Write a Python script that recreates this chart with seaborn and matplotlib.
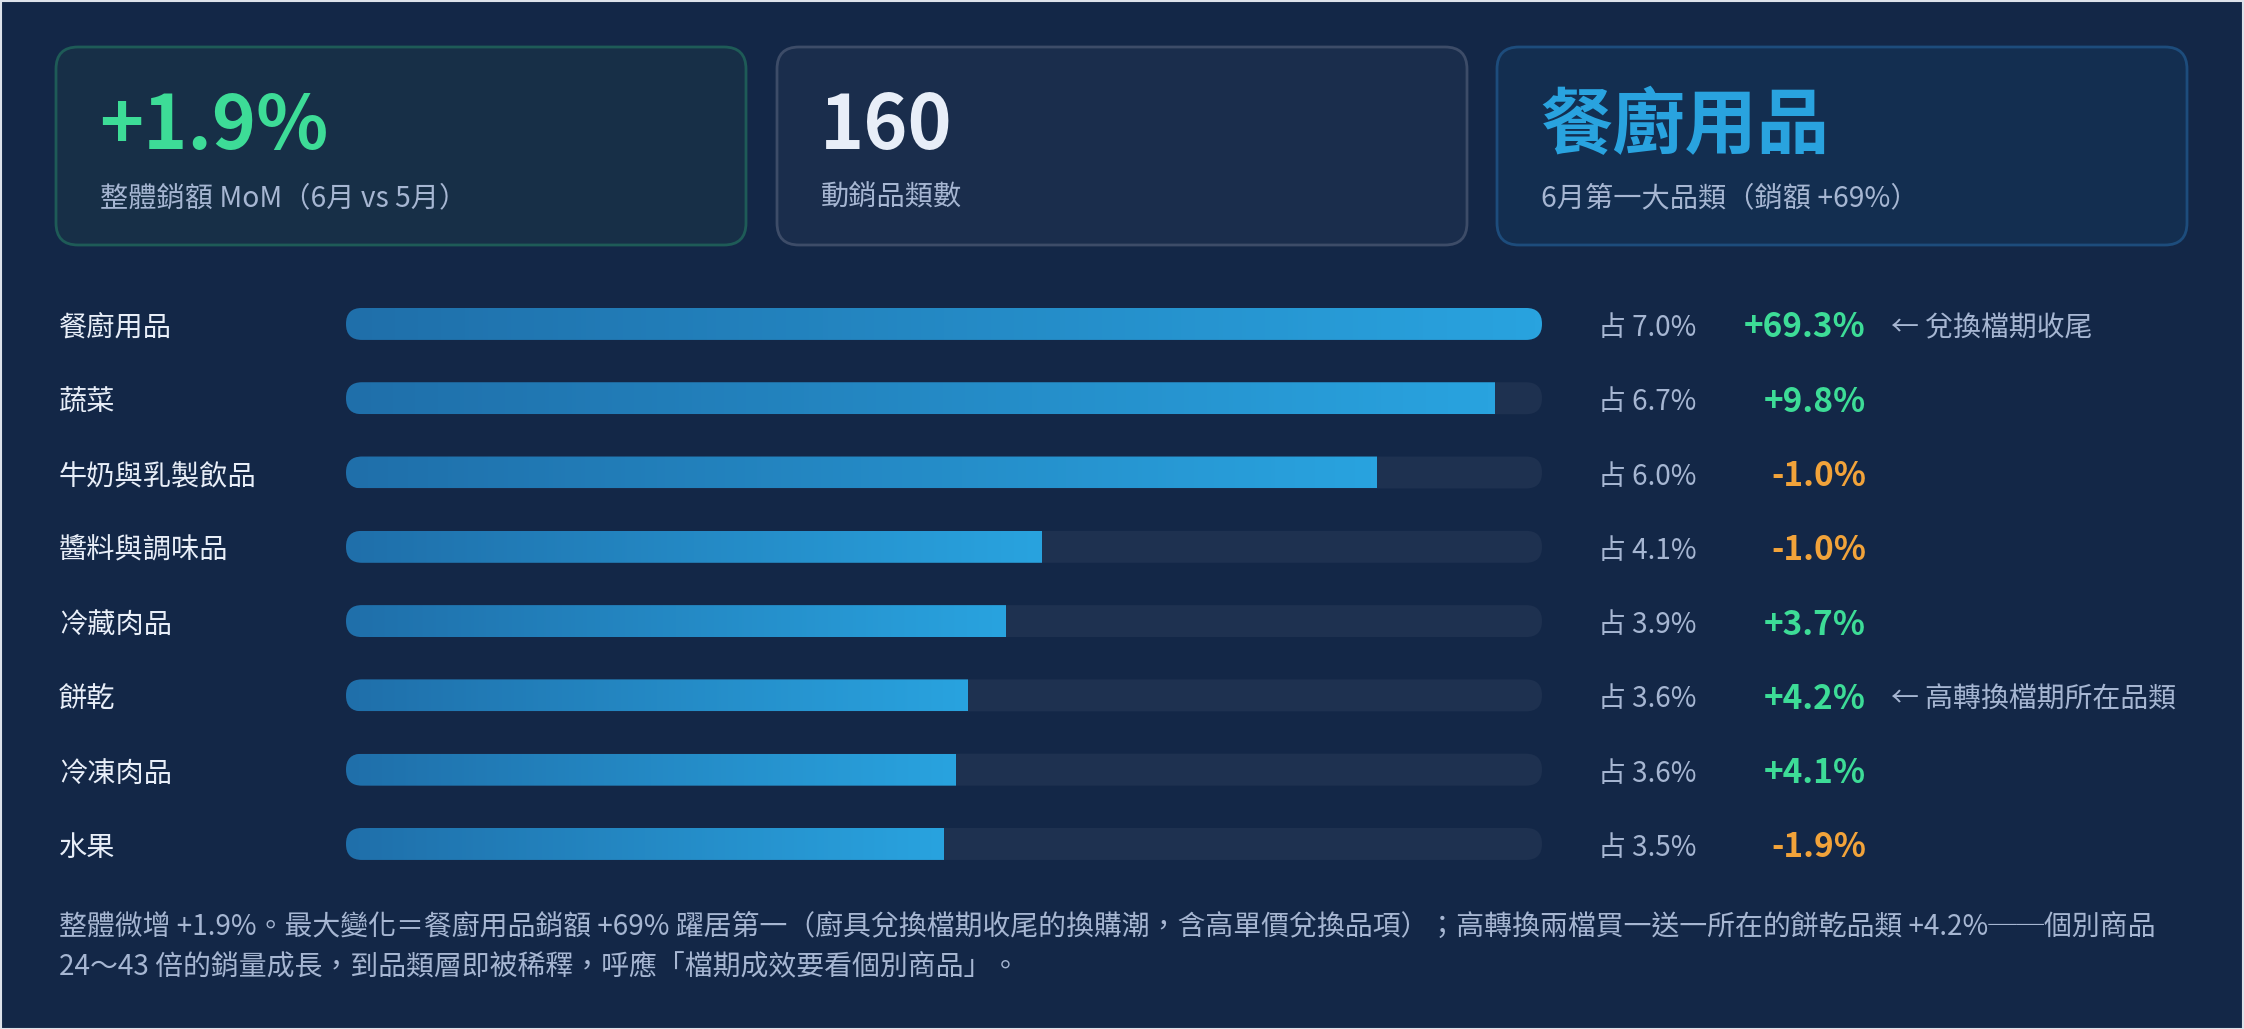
import numpy as np
import pandas as pd
import matplotlib
matplotlib.use("Agg")
import matplotlib.pyplot as plt
import seaborn as sns
import matplotlib.transforms as mtransforms
from matplotlib.patches import FancyBboxPatch, Rectangle
from matplotlib.colors import LinearSegmentedColormap

# ---------------- data ----------------
categories = ["餐廚用品", "蔬菜", "牛奶與乳製飲品", "醬料與調味品", "冷藏肉品", "餅乾", "冷凍肉品", "水果"]
share = [7.0, 6.72, 6.03, 4.07, 3.86, 3.64, 3.57, 3.50]
mom = [69.3, 9.8, -1.0, -1.0, 3.7, 4.2, 4.1, -1.9]
notes = ["← 兌換檔期收尾", "", "", "", "", "← 高轉換檔期所在品類", "", ""]

kpi_values = ["+1.9%", "160", "餐廚用品"]
kpi_labels = ["整體銷額 MoM（6月 vs 5月）", "動銷品類數", "6月第一大品類（銷額 +69%）"]

footer_lines = [
    "整體微增 +1.9%。最大變化＝餐廚用品銷額 +69% 躍居第一（廚具兌換檔期收尾的換購潮，含高單價兌換品項）；高轉換兩檔買一送一所在的餅乾品類 +4.2%──個別商品",
    "24〜43 倍的銷量成長，到品類層即被稀釋，呼應「檔期成效要看個別商品」。",
]

# ---------------- style ----------------
BG = "#132747"
TRACK = "#1e3150"
GRAD_L = "#1f6faa"
GRAD_R = "#29a3df"
GREEN = "#3ddc97"
ORANGE = "#f2a33a"
BLUE = "#29a3df"
WHITE = "#e8eef8"
MUTED = "#a6b6d2"
FS_CARD = 20.3
FS = 20.1

card_styles = [
    dict(fc="#172f47", ec="#1e5b57", vc=GREEN, fs=54),
    dict(fc="#1a2d4c", ec="#3d4c68", vc=WHITE, fs=54),
    dict(fc="#132e50", ec="#1d4c7c", vc=BLUE, fs=52),
]

sns.set_theme(style="dark")
plt.rcParams['font.family'] = ['Noto Sans CJK TC', 'DejaVu Sans']

W, H = 2244, 1029
fig = plt.figure(figsize=(W / 100, H / 100), dpi=100, facecolor=BG)

# overlay axes in pixel coordinates
ax0 = fig.add_axes([0, 0, 1, 1])
ax0.set_xlim(0, W)
ax0.set_ylim(H, 0)
ax0.axis('off')
ax0.set_facecolor(BG)

# ---------------- KPI cards ----------------
card_x = [56, 777, 1497]
card_w, card_y, card_h = 690, 47, 198
for x, val, lab, st in zip(card_x, kpi_values, kpi_labels, card_styles):
    ax0.add_patch(FancyBboxPatch((x, card_y), card_w, card_h,
                                 boxstyle="round,pad=0,rounding_size=22",
                                 fc=st["fc"], ec=st["ec"], lw=2))
    ax0.text(x + 43, 127, val, fontsize=st["fs"], fontweight='bold', color=st["vc"],
             va='center', ha='left')
    ax0.text(x + 44, 198, lab, fontsize=FS_CARD, color=MUTED, va='center', ha='left')

# ---------------- bars ----------------
n = len(categories)
ax = fig.add_axes([346 / W, 1 - 881.1 / H, 1196 / W, 594.3 / H])
df = pd.DataFrame({"category": categories, "share": share, "track": [max(share)] * n})
bw = 0.43
sns.barplot(data=df, y="category", x="track", orient="h", color=TRACK,
            width=bw, saturation=1, ax=ax)
sns.barplot(data=df, y="category", x="share", orient="h", color=GRAD_R,
            width=bw, saturation=1, ax=ax)
ax.set_xlim(0, max(share))
ax.set_ylim(n - 0.5, -0.5)
ax.set_facecolor("none")
ax.axis('off')

p0 = ax.transData.transform((0, 0))
px_x = ax.transData.transform((1, 0))[0] - p0[0]
px_y = abs(ax.transData.transform((0, 1))[1] - p0[1])
asp = px_x / px_y

cmap = LinearSegmentedColormap.from_list("bar", [GRAD_L, GRAD_R])
grad = np.linspace(0, 1, 256).reshape(1, -1)

patches = list(ax.patches)
tracks, fills = patches[:n], patches[n:2 * n]
for tp, fp in zip(tracks, fills):
    x, y, w, h = tp.get_x(), tp.get_y(), tp.get_width(), tp.get_height()
    r = h / (2 * asp)
    pill = FancyBboxPatch((x, y), w, h, boxstyle=f"round,pad=0,rounding_size={r}",
                          mutation_aspect=asp, fc=TRACK, ec="none", zorder=2,
                          transform=ax.transData)
    ax.add_patch(pill)
    fx, fy, fw, fh = fp.get_x(), fp.get_y(), fp.get_width(), fp.get_height()
    im = ax.imshow(grad, extent=[fx, fx + fw, fy + fh, fy], cmap=cmap,
                   aspect='auto', zorder=3, interpolation='bilinear')
    im.set_clip_path(pill)
    tp.set_visible(False)
    fp.set_visible(False)
ax.set_xlim(0, max(share))
ax.set_ylim(n - 0.5, -0.5)

# ---------------- row texts ----------------
trans = mtransforms.blended_transform_factory(ax0.transData, ax.transData)
trans = mtransforms.offset_copy(trans, fig=fig, x=0, y=-4, units='dots')
for i, (cat, s, m, note) in enumerate(zip(categories, share, mom, notes)):
    ax.text(59, i, cat, transform=trans, fontsize=FS_CARD, color=WHITE, va='center', ha='left')
    ax.text(1598, i, f"占 {s:.1f}%", transform=trans, fontsize=FS, color=MUTED,
            va='center', ha='left')
    ax.text(1866, i, f"{m:+.1f}%", transform=trans, fontsize=24, fontweight='bold',
            color=GREEN if m >= 0 else ORANGE, va='center', ha='right')
    if note:
        ax.text(1891, i, note, transform=trans, fontsize=FS, color=MUTED,
                va='center', ha='left')

# ---------------- footer ----------------
for k, line in enumerate(footer_lines):
    ax0.text(59, 927 + 39 * k, line, fontsize=FS, color=MUTED, va='center', ha='left')

ax0.add_patch(Rectangle((0.5, 0.5), W - 1, H - 1, fill=False, ec="#dde2ea", lw=1.5))

fig.savefig("out.png", dpi=100, facecolor=BG)
